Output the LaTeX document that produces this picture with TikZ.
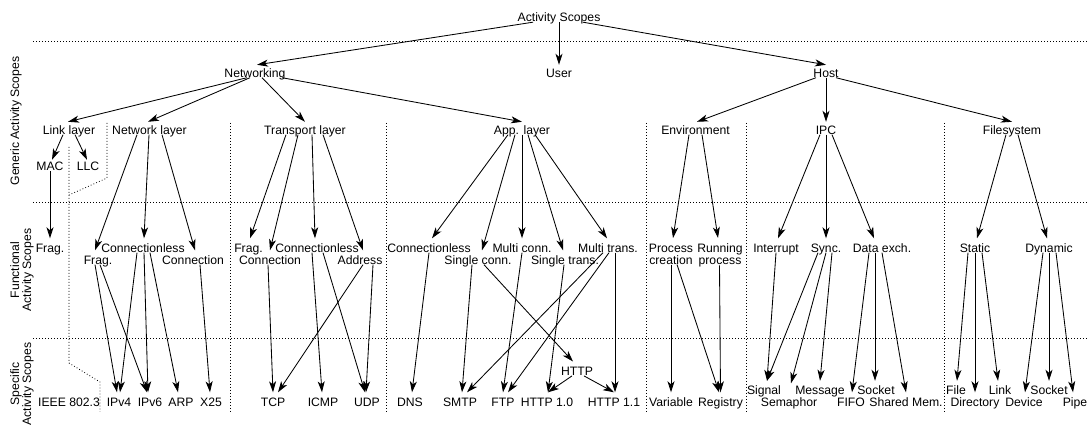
\documentclass[tikz,border=0pt]{standalone}
\usepackage{fontspec}
\setmainfont{Liberation Sans}
\usetikzlibrary{arrows.meta}
\begin{document}
\begin{tikzpicture}[x=1pt,y=-1pt,
  lbl/.style={font=\fontsize{12.2}{12}\selectfont, inner sep=0pt, text height=14pt, text depth=0pt, anchor=base},
  upper/.style={lbl, text height=12.5pt},
  twoline/.style={font=\fontsize{12.2}{12}\selectfont, align=center, inner xsep=0pt, inner ysep=5.8pt, anchor=north},
  side/.style={font=\fontsize{12.2}{12}\selectfont, align=center, rotate=90, inner sep=0pt},
  arr/.style={line width=0.85pt, -{Stealth[length=11pt,width=7pt,inset=3pt]}},
  sep/.style={line width=0.8pt, dash pattern=on 0.8pt off 2.2pt}]
\useasboundingbox (0,0) rectangle (1087,427);

% level separators
\draw[sep] (33,41) -- (1087,41);
\draw[sep] (33,202) -- (1087,202);
\draw[sep] (33,338) -- (1087,338);
\draw[sep] (230,123) -- (230,412);
\draw[sep] (386,123) -- (386,412);
\draw[sep] (646,123) -- (646,412);
\draw[sep] (746,123) -- (746,412);
\draw[sep] (944,123) -- (944,412);
\draw[sep] (107,123) -- (107,178) -- (69,195);
\draw[sep] (69,147) -- (69,363) -- (100,382) -- (100,412);

% level captions
\node[side] (gen) at (16,121) {Generic Activity Scopes};
\node[side] (func) at (22,270) {Functional\\Activity Scopes};
\node[side] (spec) at (22,384) {Specific\\Activity Scopes};

% generic scopes
\node[upper] (root) at (559,22) {Activity Scopes};
\node[upper] (net) at (255,77.5) {Networking};
\node[upper] (user) at (559,77.5) {User};
\node[upper] (host) at (826,77.5) {Host};
\node[upper] (link) at (69,134.5) {Link layer};
\node[upper] (netl) at (149.5,134.5) {Network layer};
\node[upper] (tran) at (305,134.5) {Transport layer};
\node[upper] (app) at (522,134.5) {App. layer};
\node[upper] (env) at (695.5,134.5) {Environment};
\node[upper] (ipc) at (826,134.5) {IPC};
\node[upper] (fs) at (1012,134.5) {Filesystem};
\node[lbl, text height=11pt] (mac) at (50,171) {MAC};
\node[lbl, text height=11pt] (llc) at (88,171) {LLC};

% functional scopes
\node[lbl] (fragm) at (50,252.5) {Frag.};
\node[lbl] (nfrag) at (98,264.5) {Frag.};
\node[lbl] (ncl) at (143,252.5) {Connectionless};
\node[lbl] (nco) at (193,264.5) {Connection};
\node[lbl] (tfrag) at (248.5,252.5) {Frag.};
\node[lbl] (tco) at (270,264.5) {Connection};
\node[lbl] (tcl) at (317,252.5) {Connectionless};
\node[lbl] (taddr) at (360,264.5) {Address};
\node[lbl] (acl) at (429,252.5) {Connectionless};
\node[lbl] (asc) at (478,264.5) {Single conn.};
\node[lbl] (amc) at (522,252.5) {Multi conn.};
\node[lbl] (ast) at (565,264.5) {Single trans.};
\node[lbl] (amt) at (608,252.5) {Multi trans.};
\node[twoline] (pc) at (671,238) {Process\\creation};
\node[twoline] (rp) at (720,238) {Running\\process};
\node[lbl] (intr) at (776,252.5) {Interrupt};
\node[lbl] (sync) at (826,252.5) {Sync.};
\node[lbl] (dex) at (882,252.5) {Data exch.};
\node[lbl] (stat) at (975,252.5) {Static};
\node[lbl] (dyn) at (1049,252.5) {Dynamic};

% specific scopes
\node[lbl] (ieee) at (69,406.5) {IEEE 802.3};
\node[lbl] (ipv4) at (119,406.5) {IPv4};
\node[lbl] (ipv6) at (150,406.5) {IPv6};
\node[lbl] (arp) at (181,406.5) {ARP};
\node[lbl] (x25) at (211,406.5) {X25};
\node[lbl] (tcp) at (273,406.5) {TCP};
\node[lbl] (icmp) at (323,406.5) {ICMP};
\node[lbl] (udp) at (367,406.5) {UDP};
\node[lbl] (dns) at (410,406.5) {DNS};
\node[lbl] (smtp) at (460,406.5) {SMTP};
\node[lbl] (ftp) at (503,406.5) {FTP};
\node[lbl] (http) at (577,375.7) {HTTP};
\node[lbl] (h10) at (547,406.5) {HTTP 1.0};
\node[lbl] (h11) at (614,406.5) {HTTP 1.1};
\node[lbl] (var) at (671,406.5) {Variable};
\node[lbl] (reg) at (720.5,406.5) {Registry};
\node[lbl] (sig) at (764,395) {Signal};
\node[lbl] (sem) at (789,406.5) {Semaphor};
\node[lbl] (msg) at (820,395) {Message};
\node[lbl] (fifo) at (851,406.5) {FIFO};
\node[lbl] (sock) at (876,395) {Socket};
\node[lbl] (shm) at (906,406.5) {Shared Mem.};
\node[lbl] (file) at (956,395) {File};
\node[lbl] (dir) at (975,406.5) {Directory};
\node[lbl] (lnk) at (1000,395) {Link};
\node[lbl] (dev) at (1024,406.5) {Device};
\node[lbl] (sock2) at (1049,395) {Socket};
\node[lbl] (pipe) at (1075,406.5) {Pipe};

% generic level
\draw[arr] ([xshift=-26]root.south) -- ([xshift=2]net.north);
\draw[arr] (root.south) -- (user.north);
\draw[arr] ([xshift=24]root.south) -- (host.north);
\draw[arr] ([xshift=-8]net.south) -- ([xshift=-1]link.north);
\draw[arr] ([xshift=-5]net.south) -- ([xshift=-1.5]netl.north);
\draw[arr] ([xshift=7]net.south) -- (tran.north);
\draw[arr] ([xshift=27]net.south) -- (app.north);
\draw[arr] ([xshift=-10]host.south) -- ([xshift=1.5]env.north);
\draw[arr] (host.south) -- (ipc.north);
\draw[arr] ([xshift=10]host.south) -- (fs.north);
\draw[arr] ([xshift=-6]link.south) -- ([xshift=2]mac.north);
\draw[arr] ([xshift=6]link.south) -- ([xshift=-1]llc.north);

% generic to functional
\draw[arr] (mac.south) -- (fragm.north);
\draw[arr] ([xshift=-12.5]netl.south) -- ([xshift=-3]nfrag.north);
\draw[arr] ([xshift=-0.5]netl.south) -- ([xshift=1]ncl.north);
\draw[arr] ([xshift=12.5]netl.south) -- ([xshift=2]nco.north);
\draw[arr] ([xshift=-19]tran.south) -- ([xshift=1.5]tfrag.north);
\draw[arr] ([xshift=-7]tran.south) -- (tco.north);
\draw[arr] ([xshift=7]tran.south) -- ([xshift=-2]tcl.north);
\draw[arr] ([xshift=18]tran.south) -- ([xshift=3]taddr.north);
\draw[arr] ([xshift=-14]app.south) -- ([xshift=3]acl.north);
\draw[arr] ([xshift=-7]app.south) -- ([xshift=4]asc.north);
\draw[arr] (app.south) -- (amc.north);
\draw[arr] ([xshift=6]app.south) -- ([xshift=-2]ast.north);
\draw[arr] ([xshift=13]app.south) -- ([xshift=-1]amt.north);
\draw[arr] ([xshift=-6.5]env.south) -- ([xshift=2]pc.north);
\draw[arr] ([xshift=6.5]env.south) -- ([xshift=-2]rp.north);
\draw[arr] ([xshift=-6]ipc.south) -- ([xshift=2]intr.north);
\draw[arr] (ipc.south) -- (sync.north);
\draw[arr] ([xshift=6]ipc.south) -- ([xshift=-8]dex.north);
\draw[arr] ([xshift=-6]fs.south) -- ([xshift=2]stat.north);
\draw[arr] ([xshift=6]fs.south) -- ([xshift=-2]dyn.north);

% functional to specific: networking
\draw[arr] ([xshift=-3]nfrag.south) -- ([xshift=-2]ipv4.north);
\draw[arr] ([xshift=2]nfrag.south) -- ([xshift=-3]ipv6.north);
\draw[arr] ([xshift=-6]ncl.south) -- ([xshift=1]ipv4.north);
\draw[arr] ([xshift=1]ncl.south) -- ([xshift=-2]ipv6.north);
\draw[arr] ([xshift=7]ncl.south) -- ([xshift=-3]arp.north);
\draw[arr] ([xshift=7]nco.south) -- ([xshift=-1]x25.north);
\draw[arr] ([xshift=-2]tco.south) -- (tcp.north);
\draw[arr] ([xshift=3]taddr.south) -- ([xshift=5]tcp.north);
\draw[arr] ([xshift=-5]tcl.south) -- ([xshift=-1]icmp.north);
\draw[arr] ([xshift=6]tcl.south) -- ([xshift=-2]udp.north);
\draw[arr] ([xshift=13]taddr.south) -- ([xshift=-1]udp.north);
\draw[arr] (acl.south) -- ([xshift=2]dns.north);
\draw[arr] ([xshift=-6]asc.south) -- ([xshift=2]smtp.north);
\draw[arr] ([xshift=6]asc.south) -- ([xshift=-4]http.north);
\draw[arr] (amc.south) -- (ftp.north);
\draw[arr] ([xshift=-1]ast.south) -- ([xshift=1]h10.north);
\draw[arr] ([xshift=-5]amt.south) -- ([xshift=7]smtp.north);
\draw[arr] ([xshift=1]amt.south) -- ([xshift=5]ftp.north);
\draw[arr] ([xshift=7]amt.south) -- ([xshift=1]h11.north);
\draw[arr] ([xshift=-5]http.south) -- ([xshift=1]h10.north);
\draw[arr] ([xshift=7]http.south) -- (h11.north);

% functional to specific: host
\draw[arr] ([yshift=6]pc.south) -- (var.north);
\draw[arr] ([xshift=6,yshift=6]pc.south) -- ([xshift=-1.5]reg.north);
\draw[arr] ([xshift=-0.5,yshift=8]rp.south) -- (reg.north);
\draw[arr] (intr.south) -- ([xshift=3]sig.north);
\draw[arr] ([xshift=-8]sync.south) -- ([xshift=3]sig.north);
\draw[arr] (sync.south) -- ([xshift=2,yshift=9]sem.north);
\draw[arr] ([xshift=6]sync.south) -- (msg.north);
\draw[arr] ([xshift=-13]dex.south) -- ([xshift=1]fifo.north);
\draw[arr] ([xshift=-7]dex.south) -- ([xshift=-1]sock.north);
\draw[arr] (dex.south) -- (shm.north);
\draw[arr] ([xshift=-7]stat.south) -- ([xshift=1]file.north);
\draw[arr] (stat.south) -- (dir.north);
\draw[arr] ([xshift=7]stat.south) -- ([xshift=-2]lnk.north);
\draw[arr] ([xshift=-6]dyn.south) -- ([xshift=1]dev.north);
\draw[arr] (dyn.south) -- (sock2.north);
\draw[arr] ([xshift=7]dyn.south) -- ([xshift=-2]pipe.north);
\end{tikzpicture}
\end{document}
